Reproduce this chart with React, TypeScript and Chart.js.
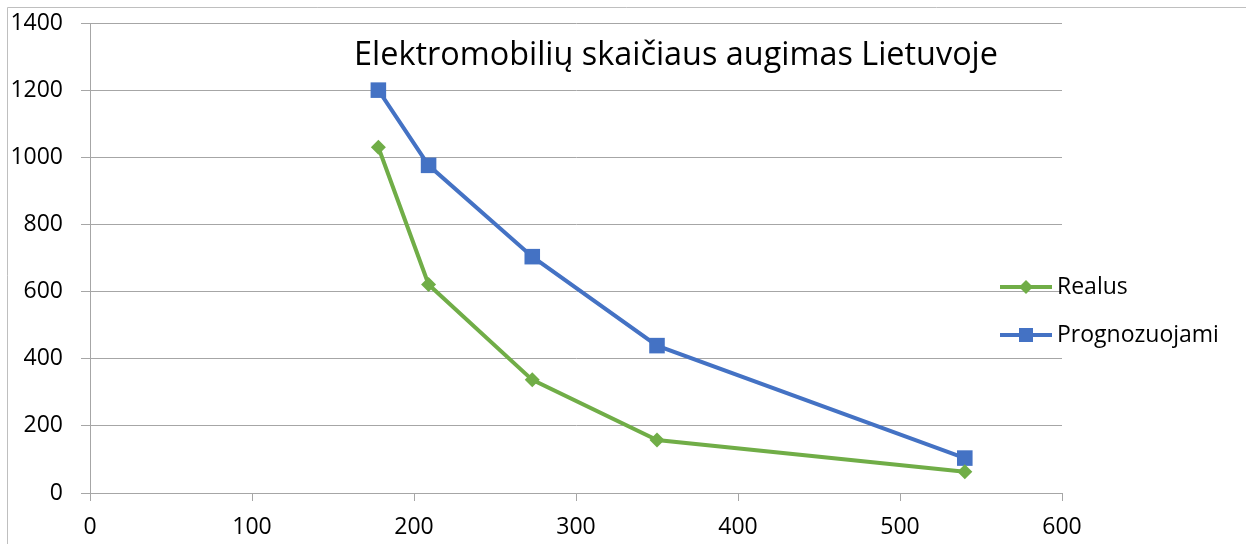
import React, { useEffect, useRef } from "react";
import { Chart, registerables } from "chart.js";

Chart.register(...registerables);

const titleText = "Elektromobilių skaičiaus augimas Lietuvoje";
const xValues = [178, 209, 273, 350, 540];
const realusValues = [1030, 621, 337, 158, 63];
const prognozuojamiValues = [1200, 976, 704, 439, 104];
const seriesNames = ["Realus", "Prognozuojami"];
const xTickStep = 100;
const yTickStep = 200;

const FONT = "'Open Sans', 'Liberation Sans', sans-serif";
const GREEN = "#70AD47";
const BLUE = "#4472C4";
const GRID = "#a6a6a6";

const decorPlugin = {
  id: "decor",
  beforeDraw(chart: any) {
    const ctx = chart.ctx;
    ctx.save();
    ctx.strokeStyle = "#bfbfbf";
    ctx.lineWidth = 1;
    ctx.beginPath();
    ctx.moveTo(7.5, 544);
    ctx.lineTo(7.5, 7.5);
    ctx.lineTo(1246, 7.5);
    ctx.stroke();
    ctx.restore();
  },
  afterDraw(chart: any) {
    const ctx = chart.ctx;
    ctx.save();
    // title
    ctx.fillStyle = "#000";
    ctx.font = `32.4px ${FONT}`;
    ctx.textAlign = "center";
    ctx.textBaseline = "middle";
    ctx.fillText(titleText, 676, 56);
    // legend
    chart.data.datasets.forEach((ds: any, i: number) => {
      const y = 287 + i * 48;
      ctx.strokeStyle = ds.borderColor;
      ctx.lineWidth = 4;
      ctx.beginPath();
      ctx.moveTo(1000, y);
      ctx.lineTo(1052, y);
      ctx.stroke();
      ctx.fillStyle = ds.pointBackgroundColor;
      if (ds.pointStyle === "rect") {
        ctx.fillRect(1026 - 7, y - 7, 14, 14);
      } else {
        ctx.beginPath();
        ctx.moveTo(1026, y - 7);
        ctx.lineTo(1033, y);
        ctx.lineTo(1026, y + 7);
        ctx.lineTo(1019, y);
        ctx.closePath();
        ctx.fill();
      }
      ctx.fillStyle = "#000";
      ctx.font = `23px ${FONT}`;
      ctx.textAlign = "left";
      ctx.textBaseline = "middle";
      ctx.fillText(ds.label, 1057, y);
    });
    ctx.restore();
  },
};

export default function App() {
  const ref = useRef<HTMLCanvasElement>(null);
  useEffect(() => {
    if (!ref.current) return;
    const chart = new Chart(ref.current, {
      type: "scatter",
      data: {
        datasets: [
          {
            label: seriesNames[0],
            data: xValues.map((x, i) => ({ x, y: realusValues[i] })),
            showLine: true,
            borderColor: GREEN,
            backgroundColor: GREEN,
            pointBackgroundColor: GREEN,
            pointBorderColor: GREEN,
            borderWidth: 4,
            pointStyle: "rectRot",
            pointRadius: 7.5,
            pointBorderWidth: 0,
          },
          {
            label: seriesNames[1],
            data: xValues.map((x, i) => ({ x, y: prognozuojamiValues[i] })),
            showLine: true,
            borderColor: BLUE,
            backgroundColor: BLUE,
            pointBackgroundColor: BLUE,
            pointBorderColor: BLUE,
            borderWidth: 4,
            pointStyle: "rect",
            pointRadius: 11,
            pointBorderWidth: 0,
          },
        ],
      },
      options: {
        responsive: false,
        animation: false,
        devicePixelRatio: 1,
        layout: { padding: { left: 0, top: 23, right: 184, bottom: 0 } },
        plugins: {
          legend: { display: false },
          title: { display: false },
          tooltip: { enabled: false },
        },
        scales: {
          x: {
            type: "linear",
            min: 0,
            max: 600,
            ticks: {
              stepSize: xTickStep,
              color: "#000",
              font: { family: FONT, size: 23 },
              padding: 13,
              callback: (v: any) => String(v),
            },
            grid: {
              drawOnChartArea: false,
              drawTicks: true,
              tickLength: 8,
              color: GRID,
            },
            border: { display: true, color: GRID, width: 1 },
            afterFit(scale: any) {
              scale.height = 51;
              scale.paddingLeft = 0;
              scale.paddingRight = 0;
            },
          },
          y: {
            type: "linear",
            min: 0,
            max: 1400,
            ticks: {
              stepSize: yTickStep,
              color: "#000",
              font: { family: FONT, size: 23 },
              padding: 18,
              callback: (v: any) => String(v),
            },
            grid: {
              drawOnChartArea: true,
              drawTicks: true,
              tickLength: 9,
              color: GRID,
            },
            border: { display: true, color: GRID, width: 1 },
            afterFit(scale: any) {
              scale.width = 90;
              scale.paddingTop = 0;
              scale.paddingBottom = 0;
            },
          },
        },
      },
      plugins: [decorPlugin],
    } as any);
    return () => chart.destroy();
  }, []);
  return (
    <div style={{ position: "absolute", left: 0, top: 0, width: 1246, height: 544, background: "#fff" }}>
      <canvas ref={ref} width={1246} height={544} style={{ width: 1246, height: 544, display: "block" }} />
    </div>
  );
}
